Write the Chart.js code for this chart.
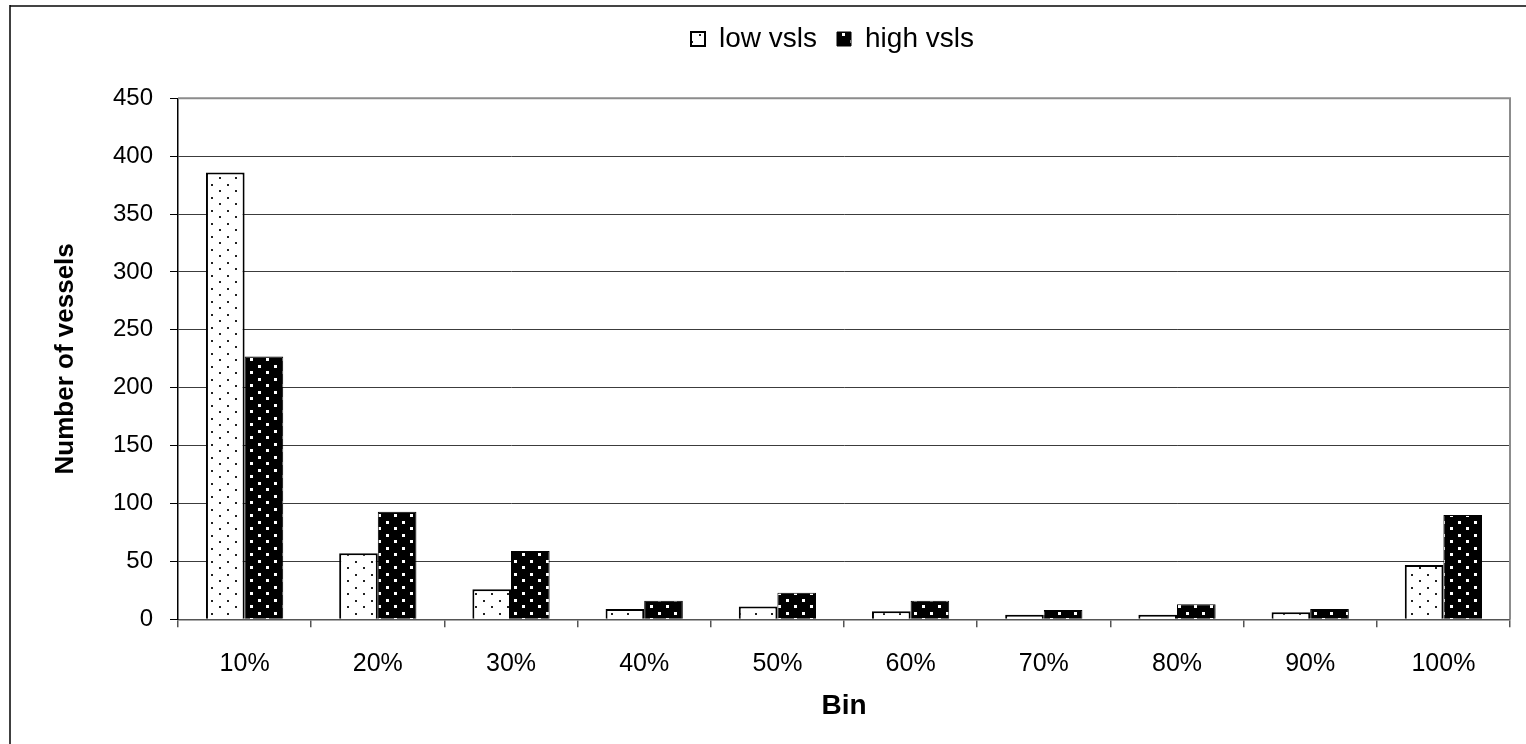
<!DOCTYPE html>
<html>
<head>
<meta charset="utf-8">
<title>Number of vessels by bin</title>
<style>
  html, body { margin: 0; padding: 0; background: #ffffff; }
  #wrap { width: 1526px; height: 744px; position: relative; }
</style>
<script src="https://cdn.jsdelivr.net/npm/chart.js@4.4.1/dist/chart.umd.min.js"></script>
</head>
<body>
<div id="wrap"><canvas id="chart" width="1526" height="744"></canvas></div>
<script>
// Bin labels and vessel counts per series
const bins = ['10%', '20%', '30%', '40%', '50%', '60%', '70%', '80%', '90%', '100%'];
const lowVsls = [386, 57, 26, 9, 11, 7, 4, 4, 6, 47];
const highVsls = [227, 93, 59, 16, 23, 16, 8, 13, 9, 90];
const seriesNames = ['low vsls', 'high vsls'];
const yTickValues = [0, 50, 100, 150, 200, 250, 300, 350, 400, 450];

const canvas = document.getElementById('chart');
const ctx = canvas.getContext('2d');

// Dotted fill patterns: small dark dots on white, white squares on black
function makePattern(bg, fg, dots, size) {
  const tile = document.createElement('canvas');
  tile.width = 16;
  tile.height = 13;
  const g = tile.getContext('2d');
  g.fillStyle = bg;
  g.fillRect(0, 0, tile.width, tile.height);
  g.fillStyle = fg;
  dots.forEach(([x, y]) => g.fillRect(x, y, size, size));
  return ctx.createPattern(tile, 'repeat');
}
const lowFill = makePattern('#ffffff', '#222222', [[3, 2], [11, 8]], 2);
const highFill = makePattern('#000000', '#ffffff', [[2, 1], [10, 7]], 3);

const FONT = "'Liberation Sans', Arial, sans-serif";

// Page frame and plot-area outline
const frame = {
  id: 'frame',
  beforeDraw(chart) {
    const c = chart.ctx;
    c.save();
    c.fillStyle = '#ffffff';
    c.fillRect(0, 0, chart.width, chart.height);
    c.strokeStyle = '#444444';
    c.lineWidth = 2;
    c.beginPath();
    c.moveTo(10, 6);
    c.lineTo(chart.width, 6);
    c.stroke();
    c.strokeStyle = '#000000';
    c.lineWidth = 1.5;
    c.beginPath();
    c.moveTo(10, 5);
    c.lineTo(10, chart.height);
    c.stroke();
    c.restore();
  },
  beforeDatasetsDraw(chart) {
    const a = chart.chartArea;
    const c = chart.ctx;
    c.save();
    c.strokeStyle = '#8c8c8c';
    c.lineWidth = 2;
    c.beginPath();
    c.moveTo(a.left, a.top);
    c.lineTo(a.right, a.top);
    c.lineTo(a.right, a.bottom);
    c.stroke();
    c.restore();
  }
};

// Fixed legend band height, legend centred over the plot area
const legendPlacement = {
  id: 'legendPlacement',
  beforeInit(chart) {
    const fit = chart.legend.fit;
    chart.legend.fit = function () {
      fit.call(this);
      this.height = 93.3;
    };
  },
  afterLayout(chart) {
    const lg = chart.legend;
    const pad = lg.options.labels.padding;
    const w = lg.lineWidths[0];
    const start = 691;
    lg.right = chart.chartArea.right;
    lg.left = 2 * start - pad - lg.right + w;
  }
};

new Chart(canvas, {
  type: 'bar',
  data: {
    labels: bins,
    datasets: [
      {
        label: seriesNames[0],
        data: lowVsls,
        backgroundColor: lowFill,
        borderColor: '#000000',
        borderWidth: 2,
        borderSkipped: 'bottom'
      },
      {
        label: seriesNames[1],
        data: highVsls,
        backgroundColor: highFill,
        borderColor: '#000000',
        borderWidth: 1,
        borderSkipped: 'bottom'
      }
    ]
  },
  options: {
    responsive: false,
    devicePixelRatio: 1,
    animation: false,
    layout: { padding: { top: 5, right: 16, bottom: 0, left: 0 } },
    datasets: {
      bar: { barPercentage: 1.0, categoryPercentage: 0.58 }
    },
    plugins: {
      legend: {
        position: 'top',
        align: 'center',
        labels: {
          color: '#000000',
          font: { family: FONT, size: 28 },
          boxWidth: 14,
          boxHeight: 14,
          padding: 20
        }
      },
      tooltip: { enabled: false }
    },
    scales: {
      x: {
        type: 'category',
        offset: true,
        afterFit(scale) { scale.height = 124.7; },
        grid: {
          offset: true,
          drawOnChartArea: false,
          drawTicks: true,
          tickLength: 8,
          color: '#555555',
          lineWidth: 1.5
        },
        border: { color: '#555555', width: 1.5 },
        ticks: {
          color: '#000000',
          font: { family: FONT, size: 25 },
          padding: 22,
          maxRotation: 0,
          autoSkip: false
        },
        title: {
          display: true,
          text: 'Bin',
          color: '#000000',
          font: { family: FONT, size: 28, weight: 'bold' },
          padding: { top: 0, bottom: 21 }
        }
      },
      y: {
        min: 0,
        max: 450,
        afterFit(scale) { scale.width = 178; },
        afterBuildTicks(scale) { scale.ticks = yTickValues.map(v => ({ value: v })); },
        grid: {
          color: c => (c.tick && c.tick.value === 450 ? 'rgba(0,0,0,0)' : '#3c3c3c'),
          tickColor: '#000000',
          lineWidth: 1,
          tickLength: 8,
          drawTicks: true
        },
        border: { color: '#000000', width: 1.5 },
        ticks: {
          color: '#000000',
          font: { family: FONT, size: 24 },
          padding: 17
        },
        title: {
          display: true,
          text: 'Number of vessels',
          color: '#000000',
          font: { family: FONT, size: 26, weight: 'bold' },
          padding: { top: 50, bottom: 0 }
        }
      }
    }
  },
  plugins: [frame, legendPlacement]
});
</script>
</body>
</html>
